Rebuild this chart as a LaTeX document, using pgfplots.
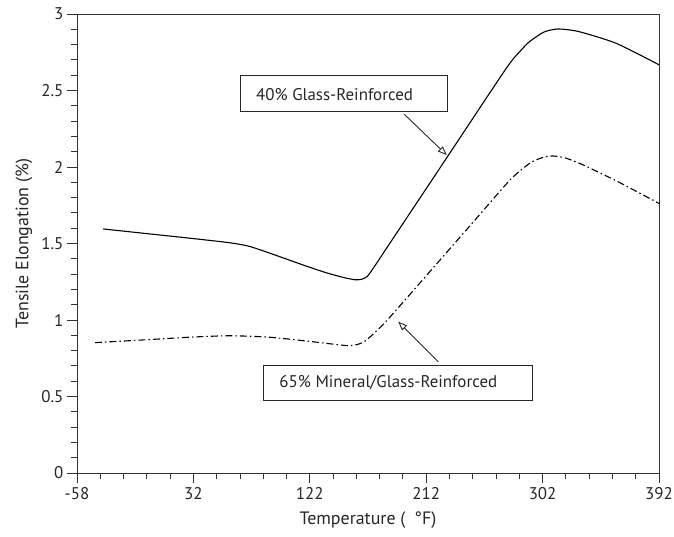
\documentclass[border=0pt]{standalone}
\usepackage{fontspec}
\setmainfont{PT Sans}
\usepackage{pgfplots}
\pgfplotsset{compat=1.18}
\usetikzlibrary{arrows.meta}
\begin{document}
\begin{tikzpicture}
\useasboundingbox (-77bp,-64bp) rectangle (597bp,473bp);
\begin{axis}[
  at={(0,0)}, anchor=south west,
  scale only axis, width=582bp, height=459bp,
  xmin=-58, xmax=392, ymin=0, ymax=3,
  xtick={-58,32,122,212,302,392}, xticklabels={-58,32,122,212,302,392},
  ytick={0,0.5,1,1.5,2,2.5,3}, yticklabels={0,0.5,1,1.5,2,2.5,3},
  minor x tick num=4, minor y tick num=4,
  tick align=outside, tick pos=left,
  major tick length=10bp, minor tick length=6bp,
  every tick/.style={line width=0.9bp, black!80},
  axis line style={line width=0.9bp, black!80},
  ticklabel style={font=\fontsize{17}{20}\selectfont, text=black!85},
  xticklabel style={yshift=-1bp},
  xlabel={Temperature (\hspace{0.5em}°F)}, ylabel={Tensile Elongation (\%)},
  label style={font=\fontsize{18}{21}\selectfont, text=black!85},
  xlabel style={at={(axis description cs:0.5,-0.1024)}, anchor=center},
  ylabel style={at={(axis description cs:-0.0911,0.5)}, anchor=center},
  clip=false,
]
\addplot[black, line width=1.1bp, smooth, tension=0.4] coordinates {
(-37.7,1.595) (0,1.561) (30,1.534) (60,1.505) (75,1.482) (90,1.440) (105,1.395)
(120,1.350) (135,1.308) (148,1.278) (157,1.263) (162,1.266) (166,1.282) (170,1.325)
(190,1.579) (228,2.062) (274,2.646) (285,2.76) (292,2.82)
(303,2.882) (314,2.902) (330,2.885) (359,2.808) (392,2.668)
};
\addplot[black, line width=1.1bp, smooth, tension=0.4,
  dash pattern=on 7bp off 3bp on 1.5bp off 3bp] coordinates {
(-44.1,0.852) (0,0.873) (30,0.888) (60,0.897) (90,0.888) (120,0.862)
(150,0.833) (158,0.838) (164,0.858) (170,0.900) (178,0.965) (186.6,1.044)
(217.5,1.342) (250,1.656) (276.8,1.915) (292,2.024) (302,2.062) (310,2.072)
(320,2.058) (333.5,2.013) (360,1.905) (392,1.762)
};
% annotations
\draw[line width=0.9bp, black!85, fill=white] (axis cs:68.6,2.361) rectangle (axis cs:228.6,2.597);
\node[anchor=west, inner sep=0pt, font=\fontsize{17}{20}\selectfont, text=black!85] at (axis cs:80.4,2.475) {40\% Glass-Reinforced};
\draw[line width=0.9bp, black!85, -{Triangle[open, length=9bp, width=7bp]}] (axis cs:195.1,2.344) -- (axis cs:227.9,2.078);
\draw[line width=0.9bp, black!85, fill=white] (axis cs:86.0,0.4725) rectangle (axis cs:294.3,0.706);
\node[anchor=west, inner sep=0pt, font=\fontsize{17}{20}\selectfont, text=black!85] at (axis cs:98.4,0.589) {65\% Mineral/Glass-Reinforced};
\draw[line width=0.9bp, black!85, -{Triangle[open, length=9bp, width=7bp]}] (axis cs:221.4,0.727) -- (axis cs:190.4,0.989);
\end{axis}
\end{tikzpicture}
\end{document}
